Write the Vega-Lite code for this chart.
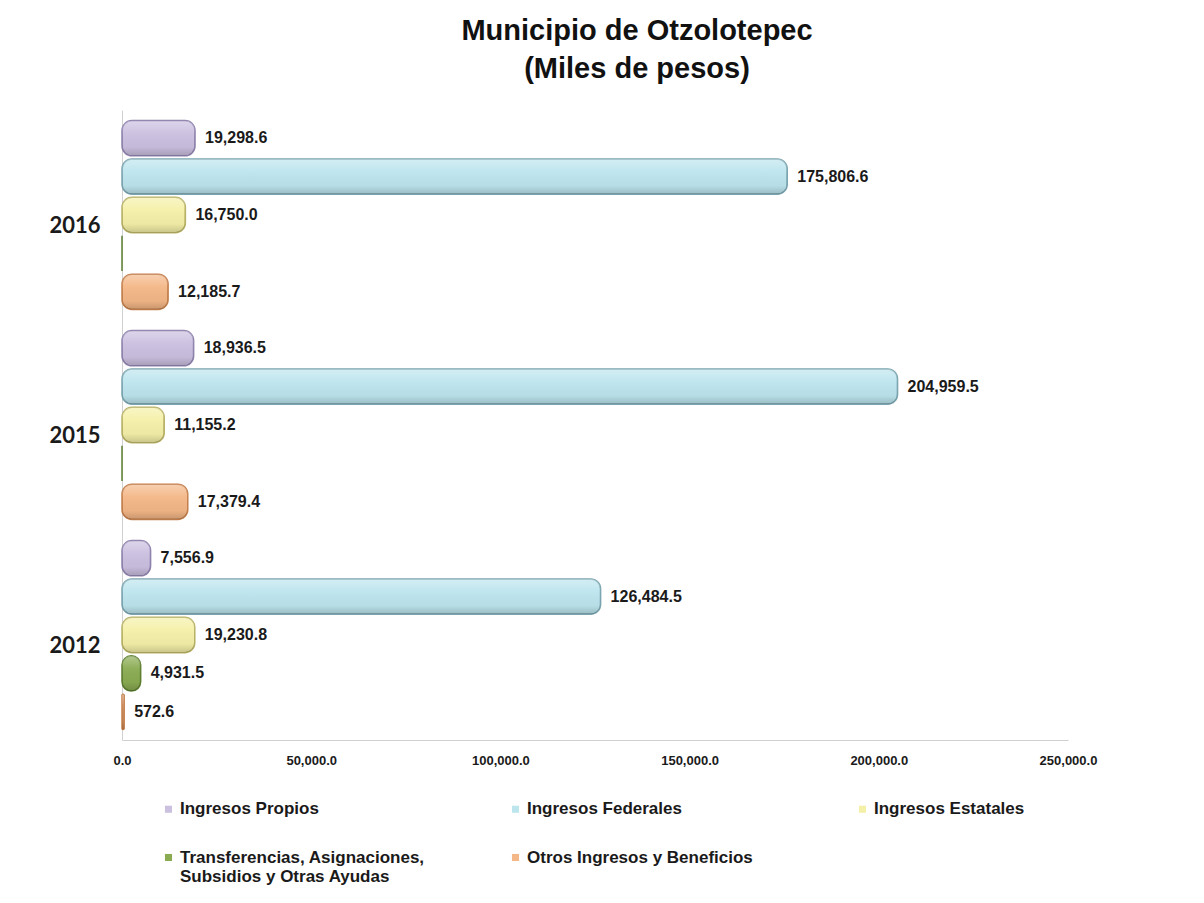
{
  "$schema": "https://vega.github.io/schema/vega-lite/v6.json",
  "autosize": "none",
  "width": 946,
  "height": 630,
  "padding": {"left": 122, "top": 110, "right": 136, "bottom": 163},
  "background": "white",
  "config": {"view": {"stroke": null}},
  "title": {
    "text": ["Municipio de Otzolotepec", "(Miles de pesos)"],
    "font": "Liberation Sans Narrow, Liberation Sans, Arial",
    "fontSize": 29,
    "fontWeight": "bold",
    "color": "#111111",
    "anchor": "middle",
    "dx": 42,
    "offset": 26,
    "lineHeight": 38
  },
  "data": {
    "values": [
      {"anio": "2016", "serie": "Ingresos Propios", "valor": 19298.6},
      {"anio": "2016", "serie": "Ingresos Federales", "valor": 175806.6},
      {"anio": "2016", "serie": "Ingresos Estatales", "valor": 16750.0},
      {"anio": "2016", "serie": "Transferencias, Asignaciones, Subsidios y Otras Ayudas", "valor": 0},
      {"anio": "2016", "serie": "Otros Ingresos y Beneficios", "valor": 12185.7},
      {"anio": "2015", "serie": "Ingresos Propios", "valor": 18936.5},
      {"anio": "2015", "serie": "Ingresos Federales", "valor": 204959.5},
      {"anio": "2015", "serie": "Ingresos Estatales", "valor": 11155.2},
      {"anio": "2015", "serie": "Transferencias, Asignaciones, Subsidios y Otras Ayudas", "valor": 0},
      {"anio": "2015", "serie": "Otros Ingresos y Beneficios", "valor": 17379.4},
      {"anio": "2012", "serie": "Ingresos Propios", "valor": 7556.9},
      {"anio": "2012", "serie": "Ingresos Federales", "valor": 126484.5},
      {"anio": "2012", "serie": "Ingresos Estatales", "valor": 19230.8},
      {"anio": "2012", "serie": "Transferencias, Asignaciones, Subsidios y Otras Ayudas", "valor": 4931.5},
      {"anio": "2012", "serie": "Otros Ingresos y Beneficios", "valor": 572.6}
    ]
  },
  "encoding": {
    "y": {
      "field": "anio",
      "type": "nominal",
      "sort": ["2016", "2015", "2012"],
      "scale": {"paddingInner": 0.1, "paddingOuter": 0.05},
      "axis": {
        "title": null,
        "ticks": false,
        "domain": true,
        "domainColor": "#d0d0d0",
        "labelFont": "Lato, Open Sans, sans-serif",
        "labelFontSize": 22,
        "labelFontWeight": "bold",
        "labelColor": "#1a1a1a",
        "labelPadding": 22,
        "labelOffset": 11,
        "labelAngle": 0
      }
    },
    "yOffset": {
      "field": "serie",
      "type": "nominal",
      "sort": ["Ingresos Propios", "Ingresos Federales", "Ingresos Estatales", "Transferencias, Asignaciones, Subsidios y Otras Ayudas", "Otros Ingresos y Beneficios"],
      "scale": {"paddingInner": 0.08}
    },
    "x": {
      "field": "valor",
      "type": "quantitative",
      "scale": {"domain": [0, 250000], "nice": false},
      "axis": {
        "title": null,
        "values": [0, 50000, 100000, 150000, 200000, 250000],
        "format": ",.1f",
        "grid": false,
        "ticks": false,
        "domain": true,
        "domainColor": "#d0d0d0",
        "labelFont": "Liberation Sans Narrow, Liberation Sans, Arial",
        "labelFontSize": 13,
        "labelFontWeight": "bold",
        "labelColor": "#1a1a1a",
        "labelPadding": 14,
        "labelFlush": false
      }
    }
  },
  "layer": [
    {
      "mark": {"type": "bar", "cornerRadius": 10, "strokeWidth": 1.5},
      "encoding": {
        "color": {
          "field": "serie",
          "type": "nominal",
          "scale": {
            "domain": ["Ingresos Propios", "Ingresos Federales", "Ingresos Estatales", "Transferencias, Asignaciones, Subsidios y Otras Ayudas", "Otros Ingresos y Beneficios"],
            "range": ["#cbc0e0", "#bde5ee", "#f5f0a8", "#8aab52", "#f4b787"]
          },
          "legend": {
            "title": null,
            "orient": "none",
            "legendX": 38,
            "legendY": 681,
            "direction": "horizontal",
            "columns": 3,
            "gridAlign": "all",
            "columnPadding": 82,
            "rowPadding": 21,
            "symbolType": "square",
            "symbolSize": 50,
            "symbolStrokeWidth": 0,
            "labelFont": "Liberation Sans Narrow, Liberation Sans, Arial",
            "labelFontSize": 17,
            "labelFontWeight": "bold",
            "labelColor": "#1a1a1a",
            "labelLimit": 400,
            "labelOffset": 3,
            "labelExpr": "datum.label == 'Transferencias, Asignaciones, Subsidios y Otras Ayudas' ? ['Transferencias, Asignaciones,', '  Subsidios y Otras Ayudas'] : datum.label"
          }
        },
        "stroke": {
          "field": "serie",
          "type": "nominal",
          "scale": {
            "domain": ["Ingresos Propios", "Ingresos Federales", "Ingresos Estatales", "Transferencias, Asignaciones, Subsidios y Otras Ayudas", "Otros Ingresos y Beneficios"],
            "range": ["#8f82ad", "#7aa5b0", "#b8b266", "#5d7f30", "#c47f4c"]
          },
          "legend": null
        }
      }
    },
    {
      "mark": {
        "type": "bar",
        "cornerRadius": 10,
        "strokeWidth": 0,
        "color": {
          "gradient": "linear",
          "x1": 0, "y1": 0, "x2": 0, "y2": 1,
          "stops": [
            {"offset": 0, "color": "rgba(255,255,255,0.35)"},
            {"offset": 0.35, "color": "rgba(255,255,255,0.05)"},
            {"offset": 0.75, "color": "rgba(0,0,0,0.03)"},
            {"offset": 1, "color": "rgba(0,0,0,0.18)"}
          ]
        }
      },
      "encoding": {}
    },
    {
      "mark": {
        "type": "text",
        "align": "left",
        "baseline": "middle",
        "dx": 10,
        "font": "Liberation Sans Narrow, Liberation Sans, Arial",
        "fontSize": 16,
        "fontWeight": "bold",
        "color": "#1a1a1a"
      },
      "encoding": {
        "text": {
          "condition": {"test": "datum.valor == 0", "value": ""},
          "field": "valor",
          "type": "quantitative",
          "format": ",.1f"
        }
      }
    }
  ]
}
